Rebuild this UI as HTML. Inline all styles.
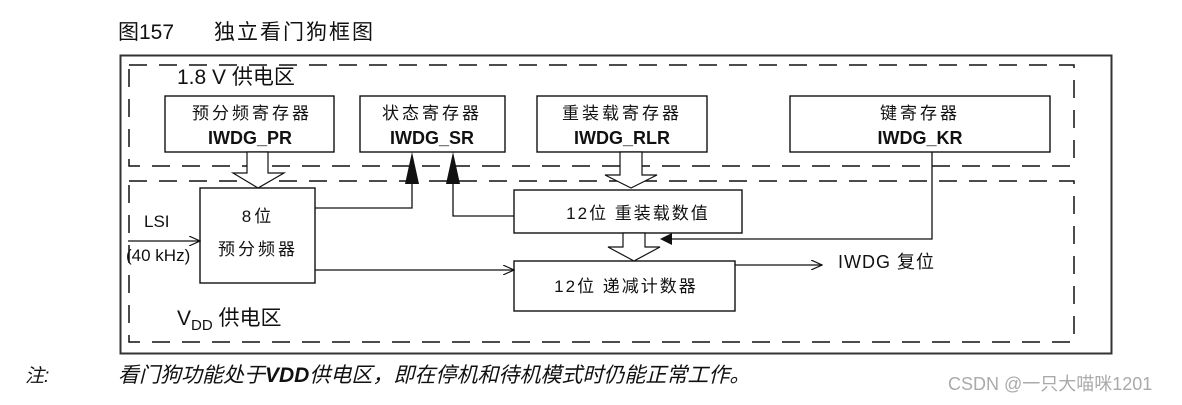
<!DOCTYPE html>
<html><head><meta charset="utf-8"><style>
body{margin:0;background:#fff;width:1182px;height:400px;overflow:hidden}
svg text{font-family:"Liberation Sans","Noto Sans CJK SC",sans-serif;fill:#111}
</style></head><body>
<svg width="1182" height="400" viewBox="0 0 1182 400" xmlns="http://www.w3.org/2000/svg">
<defs>
<marker id="open" markerWidth="12" markerHeight="10" refX="11" refY="5" orient="auto" markerUnits="userSpaceOnUse"><path d="M0,0 L11,5 L0,10" fill="none" stroke="#111" stroke-width="1.2"/></marker>
</defs>
<text x="118" y="39" font-size="21">图157</text>
<text x="214" y="39" font-size="21" letter-spacing="2">独立看门狗框图</text>
<rect x="120.5" y="55.5" width="991" height="298" fill="none" stroke="#333" stroke-width="2"/>
<g fill="none" stroke="#111" stroke-width="1.5" stroke-dasharray="18,12">
<rect x="129" y="65" width="945" height="101"/>
<rect x="129" y="181" width="945" height="161"/>
</g>
<text x="177" y="84" font-size="21">1.8 V 供电区</text>
<text x="177" y="325" font-size="21">V<tspan font-size="15" dy="5">DD</tspan><tspan dy="-5"> 供电区</tspan></text>
<g fill="#fff" stroke="#111" stroke-width="1.4">
<rect x="165" y="96" width="169" height="56"/>
<rect x="360" y="96" width="145" height="56"/>
<rect x="537" y="96" width="170" height="56"/>
<rect x="790" y="96" width="260" height="56"/>
<rect x="200" y="188" width="115" height="95"/>
<rect x="514" y="190" width="228" height="43"/>
<rect x="514" y="261" width="221" height="50"/>
</g>
<g font-size="17" text-anchor="middle" letter-spacing="3">
<text x="252" y="119">预分频寄存器</text>
<text x="432" y="119">状态寄存器</text>
<text x="622" y="119">重装载寄存器</text>
<text x="920" y="119">键寄存器</text>
<text x="258" y="222">8位</text>
<text x="258" y="255">预分频器</text>
<text x="638" y="219" letter-spacing="2">12位 重装载数值</text>
<text x="626" y="292" letter-spacing="2">12位 递减计数器</text>
</g>
<g font-size="18" font-weight="bold" text-anchor="middle">
<text x="250" y="144">IWDG_PR</text>
<text x="432" y="144">IWDG_SR</text>
<text x="622" y="144">IWDG_RLR</text>
<text x="920" y="144">IWDG_KR</text>
</g>
<text x="144" y="227" font-size="17">LSI</text>
<text x="126" y="261" font-size="17">(40 kHz)</text>
<text x="838" y="268" font-size="18" letter-spacing="1">IWDG 复位</text>
<g fill="none" stroke="#111" stroke-width="1.3">
<line x1="128" y1="241" x2="200" y2="241" marker-end="url(#open)"/>
<line x1="315" y1="270" x2="514" y2="270" marker-end="url(#open)"/>
<line x1="735" y1="265" x2="822" y2="265" marker-end="url(#open)"/>
<polyline points="315,208 412,208 412,165"/>
<polyline points="514,216 453,216 453,165"/>
<polyline points="932,152 932,239 672,239"/>
</g>
<g fill="#111">
<polygon points="412,152 405,184 419,184"/>
<polygon points="453,152 446,184 460,184"/>
<polygon points="660,239 672,233 672,245"/>
</g>
<g fill="#fff" stroke="#111" stroke-width="1.2">
<polygon points="247,152 247,173 233,173 258,188 284,173 268,173 268,152"/>
<polygon points="620,152 620,175 605,175 631,188 657,175 642,175 642,152"/>
<polygon points="623,233 623,247 608,247 634,261 660,247 645,247 645,233"/>
</g>
<text x="25" y="382" font-size="19" font-style="italic">注:</text>
<text x="118" y="382" font-size="21" font-style="italic">看门狗功能处于<tspan font-weight="bold">VDD</tspan>供电区，即在停机和待机模式时仍能正常工作。</text>
<text x="948" y="390" font-size="18" style="fill:#aaa">CSDN @一只大喵咪1201</text>
</svg>
</body></html>
